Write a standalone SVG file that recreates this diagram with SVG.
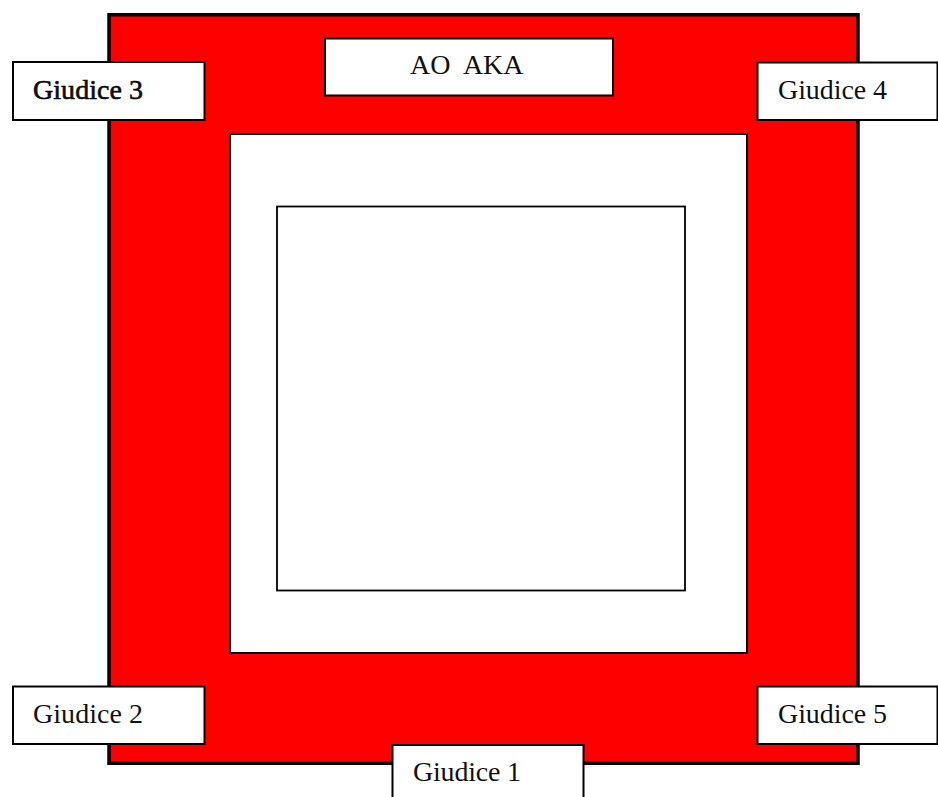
<svg xmlns="http://www.w3.org/2000/svg" width="938" height="797" viewBox="0 0 938 797">
<style>
.box{fill:#fff;stroke:#000;stroke-width:2}
.lbl{font-family:"Liberation Serif","Times New Roman",serif;font-size:28px;fill:#111}
</style>
<rect width="938" height="797" fill="#fff"/>
<g id="frame">
<rect x="109" y="14.75" width="749" height="748.5" fill="#ff0000" stroke="#000" stroke-width="3.5"/>
</g>
<g id="outer-square">
<rect class="box" x="230" y="134" width="517" height="519"/>
</g>
<g id="inner-square">
<rect x="277" y="206.5" width="408" height="384" fill="#fff" stroke="#000" stroke-width="1.8"/>
</g>
<g id="ao-aka">
<rect class="box" x="325" y="38.5" width="288" height="57"/>
<text class="lbl" x="410" y="74" xml:space="preserve">AO  AKA</text>
</g>
<g id="giudice-3">
<rect class="box" x="13" y="62" width="191.5" height="58"/>
<text class="lbl" x="33" y="98.5" textLength="110" fill="#000" stroke="#000" stroke-width="0.6">Giudice 3</text>
</g>
<g id="giudice-4">
<rect class="box" x="757.5" y="62.5" width="180" height="57.5"/>
<text class="lbl" x="778" y="98.5" textLength="109">Giudice 4</text>
</g>
<g id="giudice-2">
<rect class="box" x="13" y="686.5" width="191.5" height="57.5"/>
<text class="lbl" x="33" y="722.5" textLength="110">Giudice 2</text>
</g>
<g id="giudice-5">
<rect class="box" x="757.5" y="686.5" width="180" height="57.5"/>
<text class="lbl" x="778" y="722.5" textLength="109">Giudice 5</text>
</g>
<g id="giudice-1">
<rect class="box" x="392.5" y="745" width="191" height="60"/>
<text class="lbl" x="413" y="781" textLength="108">Giudice 1</text>
</g>
</svg>
